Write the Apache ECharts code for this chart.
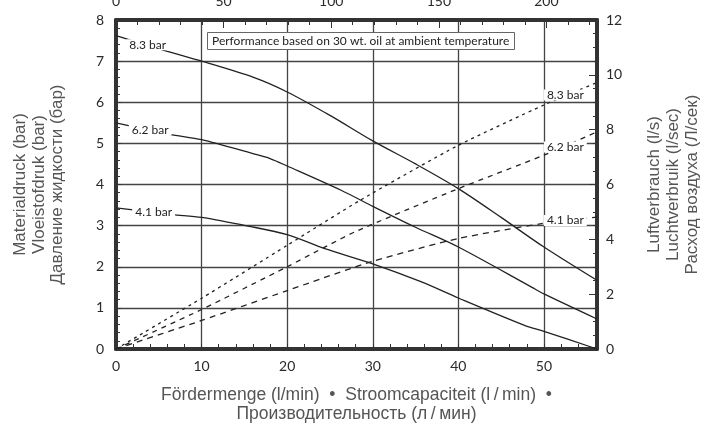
<!DOCTYPE html>
<html>
<head>
<meta charset="utf-8">
<script src="https://cdn.jsdelivr.net/npm/echarts@6/dist/echarts.min.js"></script>
<style>
  html, body { margin: 0; padding: 0; background: #fff; }
  #chart { width: 706px; height: 425px; }
</style>
</head>
<body>
<div id="chart"></div>
<script>
// fluid pressure curves, [flow l/min, bar]
const press83 = [[0, 7.62], [6, 7.24], [10, 7.0], [16, 6.61], [20, 6.25], [25, 5.68], [30, 5.06], [35, 4.5], [40, 3.9], [45, 3.2], [50, 2.48], [56.2, 1.67]];
const press62 = [[0, 5.5], [6.3, 5.22], [10, 5.09], [16, 4.75], [18, 4.63], [20, 4.45], [26.3, 3.86], [30, 3.47], [35, 2.96], [40, 2.48], [48.6, 1.5], [50, 1.34], [56.2, 0.73]];
const press41 = [[0, 3.43], [6.6, 3.27], [10, 3.2], [15.4, 2.99], [20, 2.78], [24.4, 2.44], [30, 2.07], [35.7, 1.63], [40, 1.24], [47.8, 0.57], [50, 0.43], [56.2, 0]];

// air consumption curves, [flow l/min, l/s]
const air83 = [[0, 0], [10, 1.85], [20, 3.78], [28.5, 5.42], [40, 7.43], [50, 8.9], [56.2, 9.72]];
const air62 = [[0, 0], [10, 1.44], [20, 3.0], [27.9, 4.27], [40, 5.85], [50, 7.07], [56.2, 7.92]];
const air41 = [[0, 0], [10, 1.04], [20, 2.13], [30, 3.2], [40, 4.03], [49.7, 4.57], [56.2, 4.81]];

const curveNames = ['8.3 bar', '6.2 bar', '4.1 bar'];
const pressLabelAt = [[3.7, 7.4], [4.0, 5.33], [4.4, 3.33]];
const airLabelAt = [[52.5, 9.26], [52.5, 7.37], [52.5, 4.69]];

const flowMax = 56.2;
const topMax = 223.5;

const myChart = echarts.init(document.getElementById('chart'));

const frame = { onZero: false, lineStyle: { color: '#333', width: 4 } };
const tickFont = { color: '#2a2a2a', fontFamily: 'Lato', fontSize: 14 };
const nameFont = { color: '#555', fontFamily: 'Liberation Sans', fontSize: 17, lineHeight: 19 };
const curveLabel = {
  show: true,
  position: 'inside',
  formatter: '{b}',
  color: '#222',
  fontFamily: 'Lato',
  fontSize: 12,
  lineHeight: 11,
  backgroundColor: '#fff',
  padding: [0, 3]
};

function pressSeries(data, i) {
  return {
    type: 'line',
    xAxisIndex: 0,
    yAxisIndex: 0,
    data: data,
    smooth: 0.3,
    symbol: 'none',
    lineStyle: { color: '#222', width: 1.3 },
    markPoint: {
      symbol: 'circle',
      symbolSize: 0,
      silent: true,
      label: curveLabel,
      data: [{ name: curveNames[i], coord: pressLabelAt[i] }]
    }
  };
}

function airSeries(data, i, dash) {
  return {
    type: 'line',
    xAxisIndex: 0,
    yAxisIndex: 1,
    data: data,
    smooth: 0.2,
    symbol: 'none',
    lineStyle: { color: '#222', width: 1.3, type: dash },
    markPoint: {
      symbol: 'circle',
      symbolSize: 0,
      silent: true,
      label: curveLabel,
      data: [{ name: curveNames[i], coord: airLabelAt[i] }]
    }
  };
}

const option = {
  animation: false,
  backgroundColor: '#fff',
  title: {
    text: 'Performance based on 30 wt. oil at ambient temperature',
    left: 207,
    top: 32,
    padding: [3, 5],
    borderColor: '#666',
    borderWidth: 1,
    backgroundColor: '#fff',
    textStyle: { color: '#222', fontFamily: 'Lato', fontSize: 12, fontWeight: 'normal' }
  },
  grid: { left: 116, right: 109, top: 20, bottom: 76, outerBoundsMode: 'none' },
  xAxis: [
    {
      type: 'value',
      position: 'bottom',
      min: 0,
      max: flowMax,
      interval: 10,
      axisLine: frame,
      axisTick: { inside: true, length: 5, lineStyle: { color: '#333' } },
      minorTick: { show: true, splitNumber: 5, length: 5, lineStyle: { color: '#333' } },
      splitLine: { show: true, lineStyle: { color: '#444', width: 1.3 } },
      axisLabel: Object.assign({ margin: 10, showMaxLabel: false }, tickFont),
      name: 'Fördermenge (l/min)  •  Stroomcapaciteit (l\u2009/\u2009min)  •\nПроизводительность (л\u2009/\u2009мин)',
      nameLocation: 'middle',
      nameGap: 37,
      nameTextStyle: Object.assign({}, nameFont, { fontSize: 17.5 })
    },
    {
      type: 'value',
      position: 'top',
      min: 0,
      max: topMax,
      interval: 50,
      axisLine: frame,
      axisTick: { inside: true, length: 8, lineStyle: { color: '#333' } },
      minorTick: { show: true, splitNumber: 5, length: 5, lineStyle: { color: '#333' } },
      splitLine: { show: false },
      axisLabel: Object.assign({ margin: 12, showMaxLabel: false }, tickFont)
    }
  ],
  yAxis: [
    {
      type: 'value',
      position: 'left',
      min: 0,
      max: 8,
      interval: 1,
      axisLine: frame,
      axisTick: { inside: true, length: 5, lineStyle: { color: '#333' } },
      minorTick: { show: true, splitNumber: 5, length: 4, lineStyle: { color: '#333' } },
      splitLine: { show: true, lineStyle: { color: '#444', width: 1.3 } },
      axisLabel: Object.assign({ margin: 12 }, tickFont),
      name: 'Materialdruck (bar)\nVloeistofdruk (bar)\nДавление жидкости (бар)',
      nameLocation: 'middle',
      nameRotate: 90,
      nameGap: 49,
      nameTextStyle: Object.assign({}, nameFont, { lineHeight: 18.5 })
    },
    {
      type: 'value',
      position: 'right',
      min: 0,
      max: 12,
      interval: 2,
      axisLine: frame,
      axisTick: { inside: true, length: 8, lineStyle: { color: '#333' } },
      minorTick: { show: true, splitNumber: 4, length: 4, lineStyle: { color: '#333' } },
      splitLine: { show: false },
      axisLabel: Object.assign({ margin: 9 }, tickFont),
      name: 'Luftverbrauch (l/s)\nLuchtverbruik (l/sec)\nРасход воздуха (Л/сек)',
      nameLocation: 'middle',
      nameRotate: 90,
      nameGap: 48,
      nameTextStyle: nameFont
    }
  ],
  series: [
    pressSeries(press83, 0),
    pressSeries(press62, 1),
    pressSeries(press41, 2),
    airSeries(air83, 0, [3, 4]),
    airSeries(air62, 1, [5, 5]),
    airSeries(air41, 2, [6, 5])
  ]
};

myChart.setOption(option);
</script>
</body>
</html>
